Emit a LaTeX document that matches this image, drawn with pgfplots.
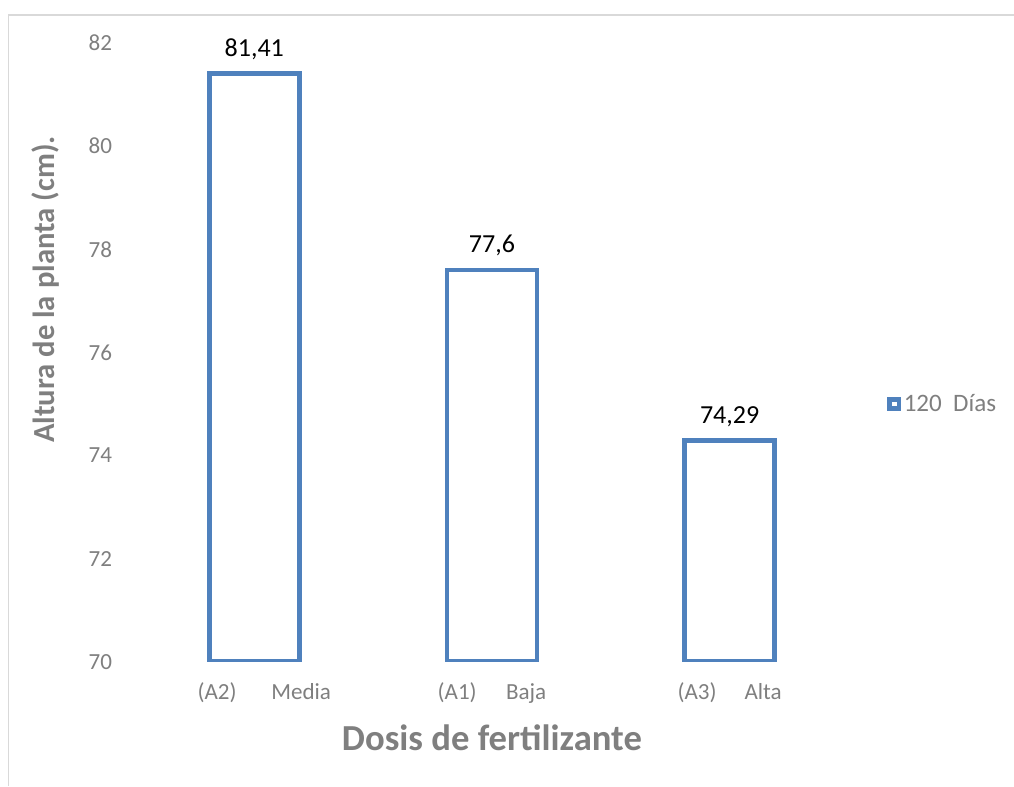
\documentclass[border=0pt]{standalone}
\usepackage{pgfplots}
\pgfplotsset{compat=1.18}
\usepackage{fontspec}
\setmainfont{Carlito}
\definecolor{barblue}{HTML}{4F81BD}
\definecolor{txtgrey}{HTML}{7F7F7F}
\definecolor{framegrey}{HTML}{D9D9D9}
\begin{document}
\begin{tikzpicture}
\useasboundingbox (0,0) rectangle (760.5pt,589.5pt);
\draw[framegrey, line width=1.1pt] (6.4pt,0) -- (6.4pt,578.3pt) -- (760.5pt,578.3pt);
\begin{axis}[
  at={(101.6pt,93.2pt)}, anchor=south west,
  scale only axis,
  width=534.75pt, height=464pt,
  xmin=-0.5, xmax=2.5, ymin=70, ymax=82,
  ytick={70,72,...,82},
  xtick={0,1,2},
  xticklabels={\hspace*{15pt}(A2)\hspace{26pt}Media, (A1)\hspace{22pt}Baja, (A3)\hspace{21pt}Alta},
  axis line style={draw=none},
  major tick length=0pt,
  tick style={draw=none},
  /pgf/number format/assume math mode=true,
  ticklabel style={font=\fontsize{17.3}{20}\selectfont, text=txtgrey},
  yticklabel style={anchor=east, inner sep=0pt, xshift=-17.4pt},
  xticklabel style={anchor=base, inner sep=0pt, yshift=-28.2pt},
  every axis x label/.style={at={(axis description cs:0.5,0)}, anchor=base, yshift=-66.2pt, font=\fontsize{27.5}{30}\selectfont\bfseries, text=txtgrey},
  every axis y label/.style={at={(axis description cs:-0.1129,0.6016)}, rotate=90, anchor=base, font=\fontsize{23}{26}\selectfont\bfseries, text=txtgrey},
  xlabel={Dosis de fertilizante},
  ylabel={Altura de la planta (cm).},
  legend style={at={(axis description cs:1.054,0.4165)}, anchor=west, draw=none, fill=none, inner sep=0pt, font=\fontsize{18.8}{22}\selectfont, text=txtgrey, legend cell align=left},
  nodes near coords,
  nodes near coords style={anchor=base, yshift=13pt, font=\fontsize{19.5}{22}\selectfont, text=black, /pgf/number format/use comma, /pgf/number format/assume math mode=true},
]
\addplot[ybar, bar width=67.5pt, draw=barblue, fill=white, line width=3.5pt,
  legend image code/.code={\draw[barblue, fill=white, line width=3.4pt] (0pt,-3.5pt) rectangle (7pt,3.5pt);}]
  coordinates {(0,81.41) (1,77.6) (2,74.29)};
\addlegendentry{120\ \ Días}
\end{axis}
\end{tikzpicture}
\end{document}
